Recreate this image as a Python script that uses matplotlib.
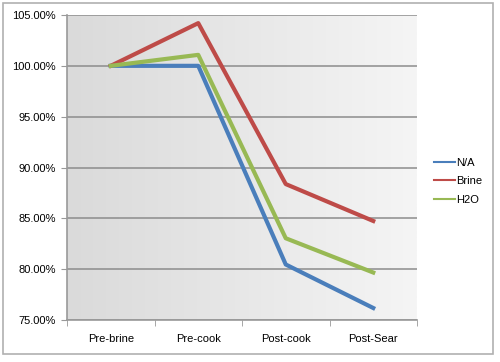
import numpy as np
import matplotlib.pyplot as plt
from matplotlib.patches import Rectangle
from matplotlib.colors import LinearSegmentedColormap
from matplotlib.ticker import FuncFormatter

plt.rcParams['font.family'] = ['Liberation Sans', 'DejaVu Sans']

# Datos
etapas = ['Pre-brine', 'Pre-cook', 'Post-cook', 'Post-Sear']
na = [100.0, 100.0, 80.46, 76.18]
brine = [100.0, 104.2, 88.37, 84.74]
h2o = [100.0, 101.08, 83.04, 79.67]

fig = plt.figure(figsize=(5, 3.62), dpi=100)
fig.patches.append(Rectangle((3 / 500, 8 / 362), 490 / 500, 351 / 362,
                             transform=fig.transFigure, fill=False,
                             edgecolor='#b0b0b0', linewidth=1.2))

ax = fig.add_axes([67 / 500, 42 / 362, 350 / 500, 305 / 362])

# fondo con degradado gris
fondo = LinearSegmentedColormap.from_list('fondo', ['#dadada', '#f5f5f5'])
grad = np.linspace(0, 1, 256).reshape(1, -1)
ax.imshow(grad, extent=[-0.5, 3.5, 75, 105], aspect='auto', cmap=fondo, zorder=0)

ax.set_yticks(np.arange(75, 106, 5))
ax.grid(axis='y', color='#8c8c8c', linewidth=1.1, zorder=1)

x = np.arange(len(etapas))
ax.plot(x, na, color='#4a7ebb', linewidth=3, label='N/A', zorder=3)
ax.plot(x, brine, color='#be4b48', linewidth=3, label='Brine', zorder=3)
ax.plot(x, h2o, color='#98b954', linewidth=3, label='H2O', zorder=3)

ax.set_xlim(-0.5, 3.5)
ax.set_ylim(75, 105)
ax.set_xticks(x)
ax.set_xticklabels(etapas)
ax.set_xticks(np.arange(-0.5, 4, 1), minor=True)
ax.tick_params(axis='x', which='major', length=0, pad=10, labelsize=8)
ax.tick_params(axis='x', which='minor', length=4, color='#999999', direction='out')
ax.tick_params(axis='y', length=4, color='#999999', labelsize=8, pad=4)
ax.yaxis.set_major_formatter(FuncFormatter(lambda v, p: '%.2f%%' % v))

for s in ['top', 'right']:
    ax.spines[s].set_visible(False)
for s in ['left', 'bottom']:
    ax.spines[s].set_color('#999999')
    ax.spines[s].set_linewidth(1.2)

leg = ax.legend(loc='center left', bbox_to_anchor=(1.02, 0.455), frameon=False,
                fontsize=8, handlelength=1.9, handletextpad=0.1, labelspacing=0.75)
for l in leg.get_lines():
    l.set_linewidth(1.5)

fig.savefig('out.png', dpi=100)
